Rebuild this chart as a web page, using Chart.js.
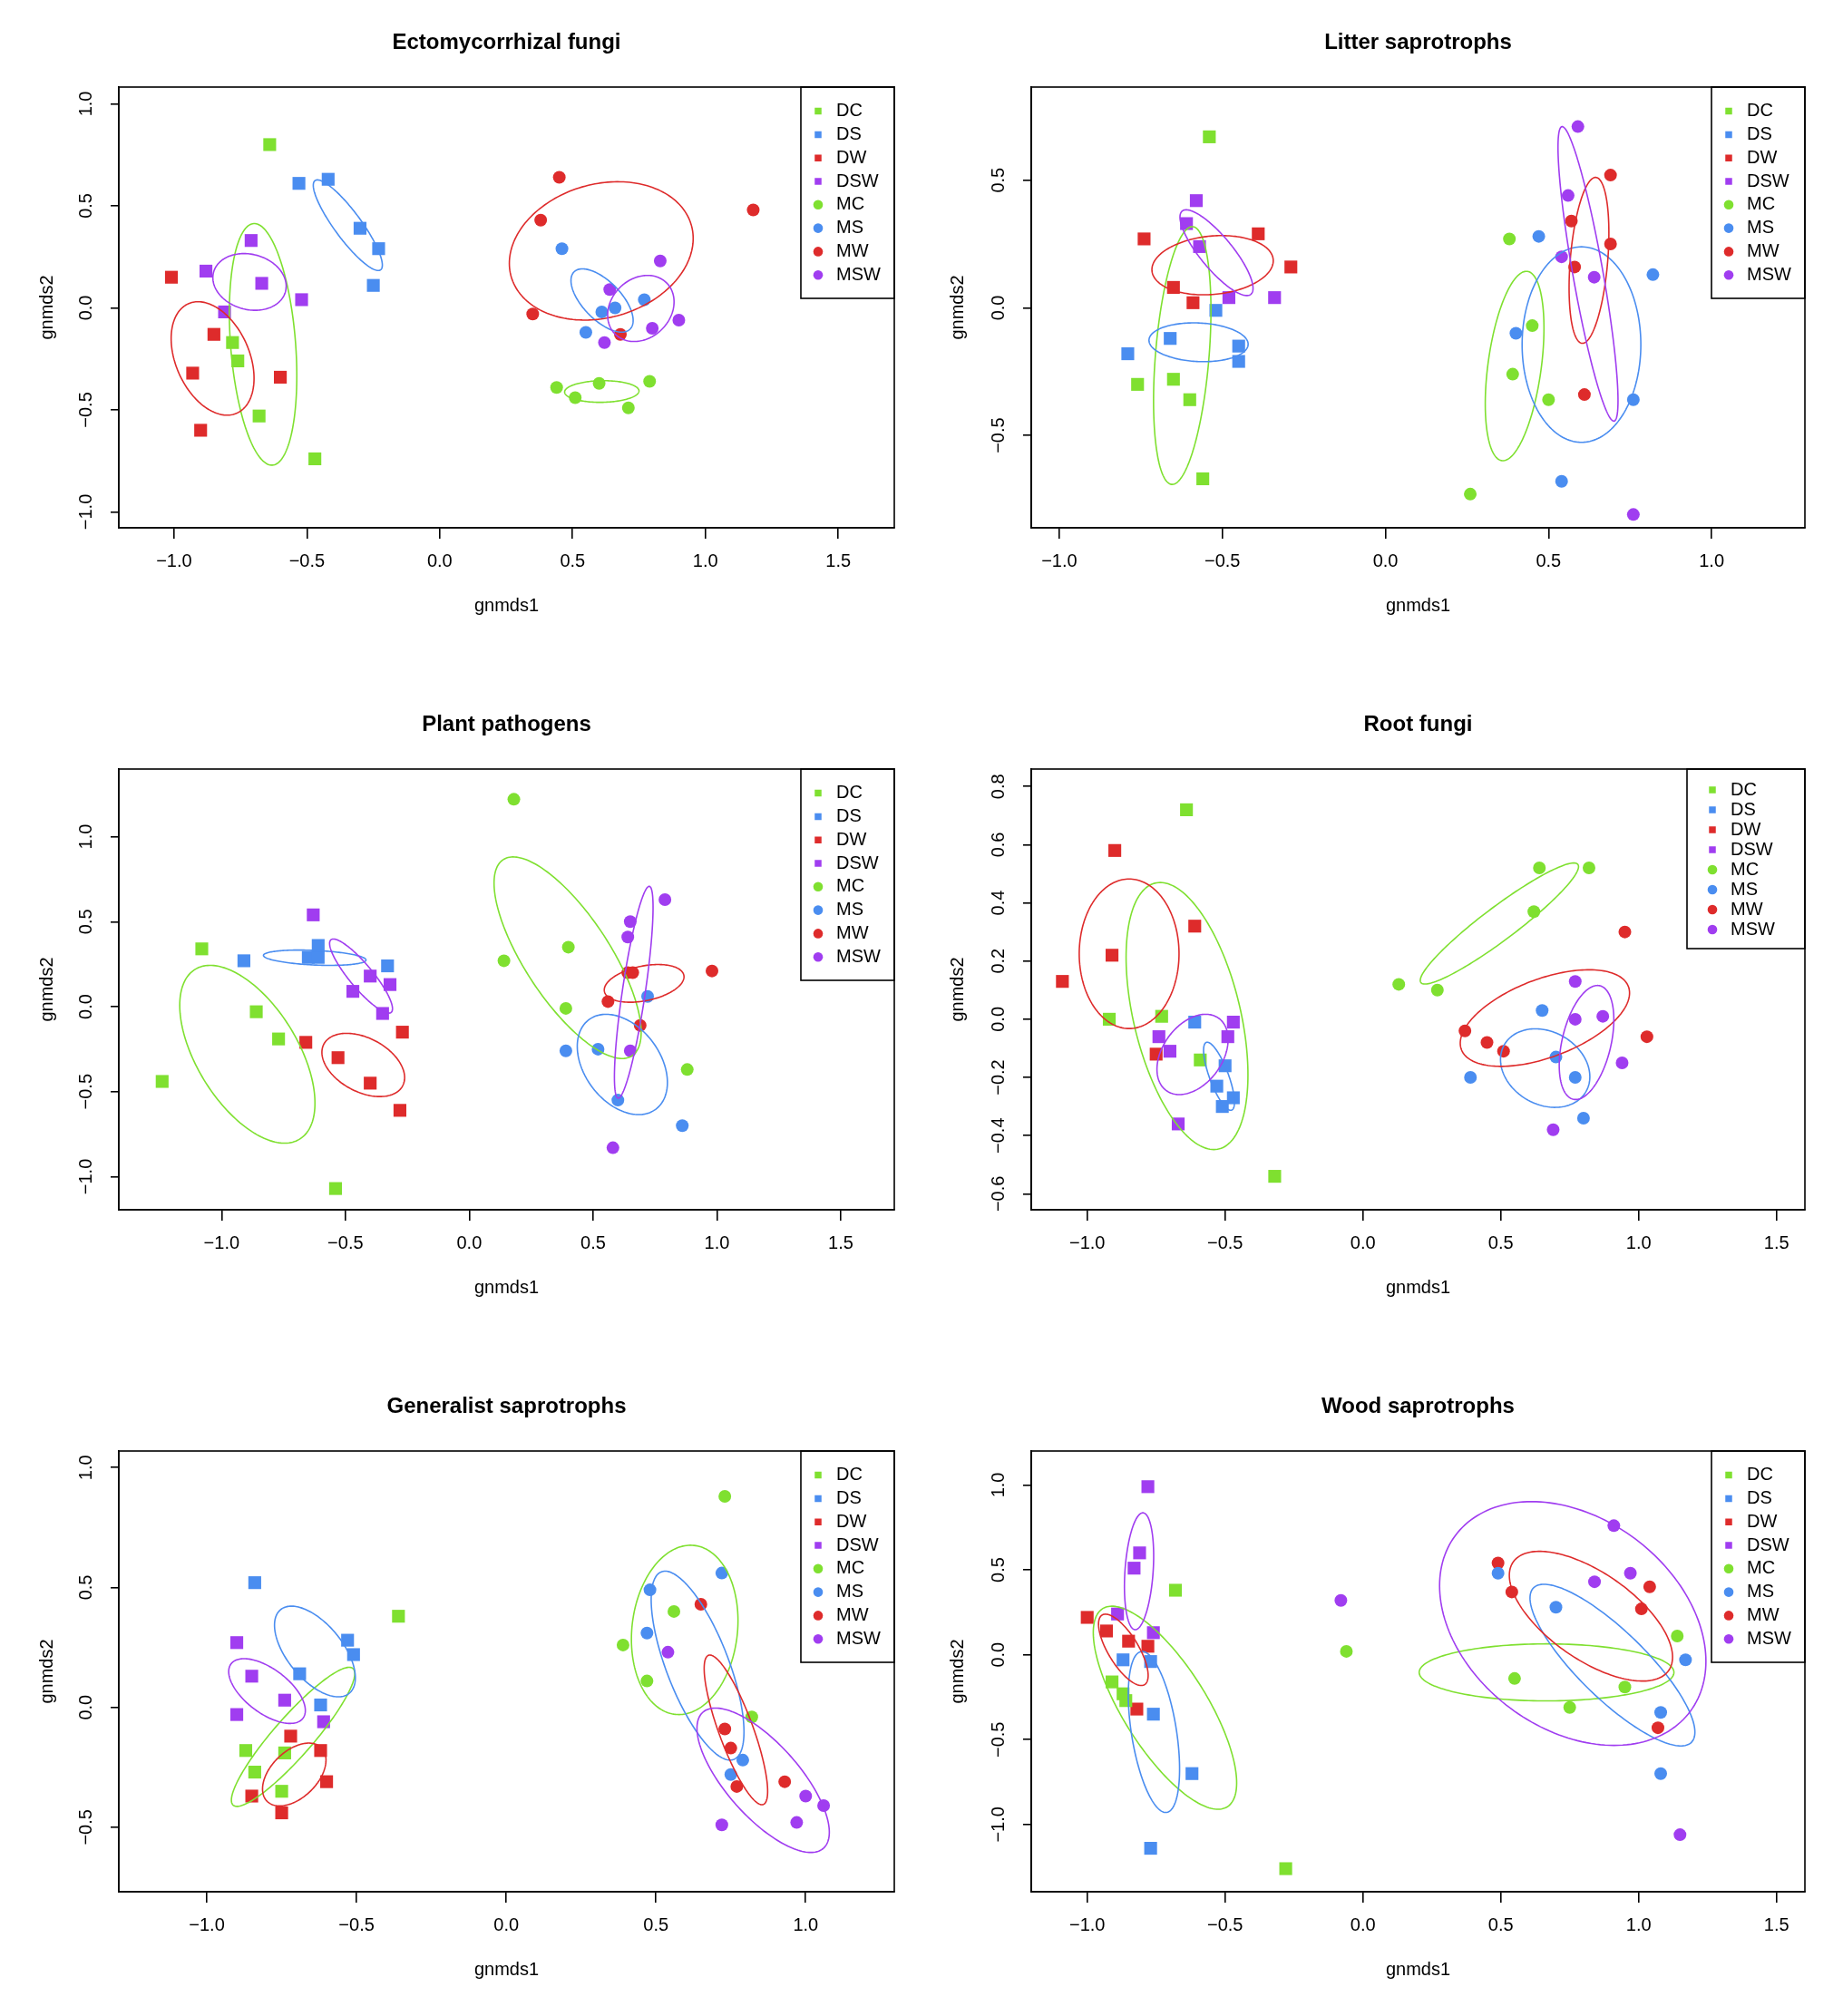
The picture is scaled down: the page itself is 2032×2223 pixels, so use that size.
<!DOCTYPE html>
<html>
<head>
<meta charset="utf-8">
<script src="https://cdn.jsdelivr.net/npm/chart.js@4.4.1/dist/chart.umd.min.js"></script>
<style>
  html, body { margin: 0; padding: 0; background: #fff; overflow: hidden; }
  body { width: 2032px; height: 2223px; position: relative; }
  .panel { position: absolute; width: 1016px; height: 719px; }
</style>
</head>
<body>
<div class="panel" style="left:0;top:0"><canvas id="p0"></canvas></div>
<div class="panel" style="left:1016px;top:0"><canvas id="p1"></canvas></div>
<div class="panel" style="left:0;top:752px"><canvas id="p2"></canvas></div>
<div class="panel" style="left:1016px;top:752px"><canvas id="p3"></canvas></div>
<div class="panel" style="left:0;top:1504px"><canvas id="p4"></canvas></div>
<div class="panel" style="left:1016px;top:1504px"><canvas id="p5"></canvas></div>
<script>
// groups (5 samples each, in this order in every x/y array)
var groups = ['DC', 'DS', 'DW', 'DSW', 'MC', 'MS', 'MW', 'MSW'];
var groupColors = ['#7fe030', '#4a8df0', '#de2b2b', '#a03df0', '#7fe030', '#4a8df0', '#de2b2b', '#a03df0'];
var groupShapes = ['rect', 'rect', 'rect', 'rect', 'circle', 'circle', 'circle', 'circle'];

var panelTitles = ['Ectomycorrhizal fungi', 'Litter saprotrophs', 'Plant pathogens', 'Root fungi', 'Generalist saprotrophs', 'Wood saprotrophs'];

// gnmds scores
var ectoX = [-0.64, -0.78, -0.76, -0.68, -0.47,  -0.53, -0.42, -0.30, -0.23, -0.25,  -1.01, -0.85, -0.93, -0.60, -0.90,  -0.71, -0.88, -0.67, -0.52, -0.81,
             0.44, 0.51, 0.60, 0.71, 0.79,  0.46, 0.61, 0.66, 0.55, 0.77,  0.45, 0.38, 0.35, 0.68, 1.18,  0.83, 0.64, 0.80, 0.90, 0.62];
var ectoY = [0.80, -0.17, -0.26, -0.53, -0.74,  0.61, 0.63, 0.39, 0.29, 0.11,  0.15, -0.13, -0.32, -0.34, -0.60,  0.33, 0.18, 0.12, 0.04, -0.02,
             -0.39, -0.44, -0.37, -0.49, -0.36,  0.29, -0.02, 0.00, -0.12, 0.04,  0.64, 0.43, -0.03, -0.13, 0.48,  0.23, 0.09, -0.10, -0.06, -0.17];

var litterX = [-0.54, -0.76, -0.65, -0.60, -0.56,  -0.79, -0.66, -0.52, -0.45, -0.45,  -0.74, -0.39, -0.29, -0.65, -0.59,  -0.58, -0.61, -0.57, -0.48, -0.34,
               0.38, 0.45, 0.39, 0.50, 0.26,  0.47, 0.82, 0.40, 0.76, 0.54,  0.69, 0.57, 0.69, 0.58, 0.61,  0.59, 0.56, 0.54, 0.64, 0.76];
var litterY = [0.67, -0.30, -0.28, -0.36, -0.67,  -0.18, -0.12, -0.01, -0.15, -0.21,  0.27, 0.29, 0.16, 0.08, 0.02,  0.42, 0.33, 0.24, 0.04, 0.04,
               0.27, -0.07, -0.26, -0.36, -0.73,  0.28, 0.13, -0.10, -0.36, -0.68,  0.52, 0.34, 0.25, 0.16, -0.34,  0.71, 0.44, 0.20, 0.12, -0.81];

var pathoX = [-1.08, -0.86, -0.77, -1.24, -0.54,  -0.91, -0.65, -0.61, -0.61, -0.33,  -0.66, -0.53, -0.27, -0.40, -0.28,  -0.63, -0.40, -0.32, -0.47, -0.35,
              0.18, 0.40, 0.14, 0.39, 0.88,  0.39, 0.52, 0.72, 0.60, 0.86,  0.64, 0.66, 0.98, 0.56, 0.69,  0.79, 0.65, 0.64, 0.65, 0.58];
var pathoY = [0.34, -0.03, -0.19, -0.44, -1.07,  0.27, 0.29, 0.29, 0.36, 0.24,  -0.21, -0.30, -0.15, -0.45, -0.61,  0.54, 0.18, 0.13, 0.09, -0.04,
              1.22, 0.35, 0.27, -0.01, -0.37,  -0.26, -0.25, 0.06, -0.55, -0.70,  0.20, 0.20, 0.21, 0.03, -0.11,  0.63, 0.50, 0.41, -0.26, -0.83];

var rootX = [-0.64, -0.92, -0.73, -0.59, -0.32,  -0.61, -0.50, -0.53, -0.47, -0.51,  -0.90, -0.61, -0.91, -1.09, -0.75,  -0.47, -0.74, -0.49, -0.70, -0.67,
             0.64, 0.82, 0.62, 0.13, 0.27,  0.65, 0.70, 0.39, 0.77, 0.80,  0.95, 0.37, 0.45, 0.51, 1.03,  0.77, 0.77, 0.87, 0.94, 0.69];
var rootY = [0.72, 0.00, 0.01, -0.14, -0.54,  -0.01, -0.16, -0.23, -0.27, -0.30,  0.58, 0.32, 0.22, 0.13, -0.12,  -0.01, -0.06, -0.06, -0.11, -0.36,
             0.52, 0.52, 0.37, 0.12, 0.10,  0.03, -0.13, -0.20, -0.20, -0.34,  0.30, -0.04, -0.08, -0.11, -0.06,  0.13, 0.00, 0.01, -0.15, -0.38];

var genX = [-0.36, -0.87, -0.84, -0.74, -0.75,  -0.84, -0.53, -0.51, -0.69, -0.62,  -0.72, -0.62, -0.60, -0.85, -0.75,  -0.90, -0.85, -0.74, -0.90, -0.61,
            0.73, 0.56, 0.39, 0.47, 0.82,  0.72, 0.48, 0.47, 0.79, 0.75,  0.65, 0.73, 0.75, 0.77, 0.93,  0.54, 1.00, 1.06, 0.97, 0.72];
var genY = [0.38, -0.18, -0.27, -0.19, -0.35,  0.52, 0.28, 0.22, 0.14, 0.01,  -0.12, -0.18, -0.31, -0.37, -0.44,  0.27, 0.13, 0.03, -0.03, -0.06,
            0.88, 0.40, 0.26, 0.11, -0.04,  0.56, 0.49, 0.31, -0.22, -0.28,  0.43, -0.09, -0.17, -0.33, -0.31,  0.23, -0.37, -0.41, -0.48, -0.49];

var woodX = [-0.68, -0.91, -0.87, -0.86, -0.28,  -0.87, -0.77, -0.76, -0.62, -0.77,  -1.00, -0.93, -0.85, -0.78, -0.82,  -0.78, -0.81, -0.83, -0.89, -0.76,
             -0.06, 1.14, 0.55, 0.95, 0.75,  0.49, 0.70, 1.17, 1.08, 1.08,  0.49, 0.54, 1.04, 1.01, 1.07,  -0.08, 0.91, 0.97, 0.84, 1.15];
var woodY = [0.38, -0.16, -0.23, -0.27, -1.26,  -0.03, -0.04, -0.35, -0.70, -1.14,  0.22, 0.14, 0.08, 0.05, -0.32,  0.99, 0.60, 0.51, 0.24, 0.13,
             0.02, 0.11, -0.14, -0.19, -0.31,  0.48, 0.28, -0.03, -0.34, -0.70,  0.54, 0.37, 0.40, 0.27, -0.43,  0.32, 0.76, 0.48, 0.43, -1.06];

// group ellipses: [centre x, centre y, half width x, half height y, tilt (corr)]
var ectoEll = [[-0.665, -0.179, 0.127, 0.592, -0.26], [-0.346, 0.405, 0.130, 0.222, -0.88], [-0.855, -0.248, 0.156, 0.278, -0.35], [-0.716, 0.127, 0.138, 0.139, -0.15],
               [0.610, -0.410, 0.140, 0.053, 0.05], [0.611, 0.036, 0.117, 0.155, -0.63], [0.608, 0.279, 0.346, 0.339, 0.18], [0.757, -0.003, 0.125, 0.162, 0.2]];
var litterEll = [[-0.623, -0.187, 0.088, 0.505, 0.35], [-0.573, -0.135, 0.152, 0.076, -0.1], [-0.530, 0.167, 0.186, 0.116, 0.15], [-0.518, 0.216, 0.112, 0.168, -0.83],
                 [0.396, -0.228, 0.090, 0.371, 0.4], [0.601, -0.144, 0.182, 0.383, 0.0], [0.624, 0.186, 0.061, 0.325, 0.33], [0.621, 0.133, 0.092, 0.577, -0.86]];
var pathoEll = [[-0.896, -0.280, 0.273, 0.523, -0.55], [-0.624, 0.288, 0.207, 0.045, -0.3], [-0.428, -0.343, 0.167, 0.186, -0.4], [-0.437, 0.180, 0.127, 0.218, -0.88],
                [0.397, 0.288, 0.297, 0.593, -0.74], [0.618, -0.340, 0.182, 0.295, -0.36], [0.706, 0.137, 0.161, 0.111, 0.35], [0.664, 0.085, 0.078, 0.623, 0.8]];
var rootEll = [[-0.638, 0.011, 0.221, 0.459, -0.44], [-0.522, -0.196, 0.056, 0.117, -0.76], [-0.848, 0.225, 0.181, 0.257, 0.0], [-0.618, -0.121, 0.129, 0.138, 0.37],
               [0.495, 0.329, 0.287, 0.208, 0.94], [0.661, -0.168, 0.162, 0.135, -0.22], [0.660, 0.004, 0.307, 0.166, 0.52], [0.811, -0.080, 0.099, 0.196, 0.4]];
var genEll = [[-0.712, -0.123, 0.206, 0.290, 0.91], [-0.639, 0.233, 0.135, 0.189, -0.58], [-0.708, -0.280, 0.106, 0.131, 0.46], [-0.799, 0.068, 0.128, 0.135, -0.6],
              [0.596, 0.323, 0.178, 0.353, 0.11], [0.639, 0.174, 0.155, 0.394, -0.7], [0.767, -0.094, 0.106, 0.312, -0.82], [0.858, -0.304, 0.221, 0.301, -0.72]];
var woodEll = [[-0.718, -0.312, 0.260, 0.598, -0.74], [-0.758, -0.455, 0.093, 0.474, -0.46], [-0.869, 0.029, 0.090, 0.210, -0.72], [-0.812, 0.492, 0.053, 0.344, 0.26],
               [0.666, -0.104, 0.462, 0.168, 0.0], [0.905, -0.061, 0.299, 0.476, -0.83], [0.827, 0.227, 0.296, 0.382, -0.63], [0.761, 0.184, 0.483, 0.718, -0.31]];

// axis limits and ticks
var xRanges = [[-1.208, 1.711], [-1.086, 1.286], [-1.415, 1.716], [-1.203, 1.603], [-1.294, 1.296], [-1.203, 1.603]];
var yRanges = [[-1.078, 1.082], [-0.862, 0.865], [-1.195, 1.398], [-0.655, 0.860], [-0.769, 1.069], [-1.396, 1.200]];
var xTicks = [[-1, -0.5, 0, 0.5, 1, 1.5], [-1, -0.5, 0, 0.5, 1], [-1, -0.5, 0, 0.5, 1, 1.5], [-1, -0.5, 0, 0.5, 1, 1.5], [-1, -0.5, 0, 0.5, 1], [-1, -0.5, 0, 0.5, 1, 1.5]];
var yTicks = [[-1, -0.5, 0, 0.5, 1], [-0.5, 0, 0.5], [-1, -0.5, 0, 0.5, 1], [-0.6, -0.4, -0.2, 0, 0.2, 0.4, 0.6, 0.8], [-0.5, 0, 0.5, 1], [-1, -0.5, 0, 0.5, 1]];

var panelX = [ectoX, litterX, pathoX, rootX, genX, woodX];
var panelY = [ectoY, litterY, pathoY, rootY, genY, woodY];
var panelEll = [ectoEll, litterEll, pathoEll, rootEll, genEll, woodEll];

// legend box geometry (px)
var legendBoxes = [
  { w: 103, h: 233, first: 26.6, step: 25.8, markerX: 19 },
  { w: 103, h: 233, first: 26.6, step: 25.8, markerX: 19 },
  { w: 103, h: 233, first: 26.6, step: 25.8, markerX: 19 },
  { w: 130, h: 198, first: 23, step: 22, markerX: 28 },
  { w: 103, h: 233, first: 26.6, step: 25.8, markerX: 19 },
  { w: 103, h: 233, first: 26.6, step: 25.8, markerX: 19 }
];

Chart.defaults.font.family = '"Liberation Sans", Arial, Helvetica, sans-serif';
Chart.defaults.font.size = 20;
Chart.defaults.color = '#000';

function fmtTick(v) {
  return (v < 0 ? '\u2212' : '') + Math.abs(v).toFixed(1);
}

var ellipsePlugin = {
  id: 'groupEllipses',
  afterDatasetsDraw: function(chart, args, opts) {
    var ctx = chart.ctx, xs = chart.scales.x, ys = chart.scales.y;
    ctx.save();
    ctx.lineWidth = 1.6;
    opts.list.forEach(function(e, k) {
      var s = Math.sqrt(1 - e[4] * e[4]);
      ctx.strokeStyle = groupColors[k];
      ctx.beginPath();
      for (var i = 0; i <= 180; i++) {
        var t = i / 180 * Math.PI * 2;
        var px = xs.getPixelForValue(e[0] + e[2] * Math.cos(t));
        var py = ys.getPixelForValue(e[1] + e[3] * (e[4] * Math.cos(t) + s * Math.sin(t)));
        if (i === 0) ctx.moveTo(px, py); else ctx.lineTo(px, py);
      }
      ctx.closePath();
      ctx.stroke();
    });
    ctx.restore();
  }
};

var framePlugin = {
  id: 'frame',
  afterLayout: function(chart, args, opts) {
    var lg = chart.legend, a = chart.chartArea, L = opts.box;
    if (!lg) return;
    var pad = L.step - 20;
    lg.left = a.right - L.w + L.markerX - 10 - pad;
    lg.top = a.top + L.first - 10 - pad;
    lg.right = a.right;
    lg.bottom = a.bottom;
    lg.width = lg.right - lg.left;
    lg.height = lg.bottom - lg.top;
  },
  afterDraw: function(chart, args, opts) {
    var ctx = chart.ctx, a = chart.chartArea, L = opts.box;
    ctx.save();
    ctx.strokeStyle = '#000';
    ctx.lineWidth = 1.6;
    ctx.strokeRect(a.left, a.top, a.right - a.left, a.bottom - a.top);
    ctx.strokeRect(a.right - L.w, a.top, L.w, L.h);
    ctx.restore();
  }
};

function makePanel(p) {
  var xs = panelX[p], ys = panelY[p];
  var left = p % 2 === 0;
  var L = legendBoxes[p];
  var datasets = groups.map(function(g, k) {
    var pts = [];
    for (var j = k * 5; j < k * 5 + 5; j++) pts.push({ x: xs[j], y: ys[j] });
    var r = groupShapes[k] === 'rect' ? 10 : 7;
    return {
      label: g,
      data: pts,
      backgroundColor: groupColors[k],
      borderColor: groupColors[k],
      borderWidth: 0,
      pointStyle: groupShapes[k],
      pointRadius: r,
      pointHoverRadius: r
    };
  });

  new Chart(document.getElementById('p' + p), {
    type: 'scatter',
    data: { datasets: datasets },
    plugins: [ellipsePlugin, framePlugin],
    options: {
      responsive: true,
      maintainAspectRatio: false,
      animation: false,
      devicePixelRatio: 1,
      layout: { padding: { left: 0, right: left ? 30 : 42, top: 0, bottom: 0 } },
      plugins: {
        title: {
          display: true,
          text: panelTitles[p],
          fullSize: false,
          font: { size: 24, weight: 'bold' },
          padding: { top: 32.6, bottom: 34.6 }
        },
        legend: {
          position: 'chartArea',
          align: 'start',
          labels: {
            usePointStyle: true,
            boxWidth: 20,
            boxHeight: 7.5,
            padding: L.step - 20,
            font: { size: 20 }
          }
        },
        tooltip: { enabled: false },
        groupEllipses: { list: panelEll[p] },
        frame: { box: L }
      },
      scales: {
        x: {
          type: 'linear',
          min: xRanges[p][0],
          max: xRanges[p][1],
          afterBuildTicks: function(s) { s.ticks = xTicks[p].map(function(v) { return { value: v }; }); },
          afterFit: function(s) { s.height = 137; },
          grid: { display: true, drawOnChartArea: false, drawTicks: true, tickLength: 12, color: '#000', lineWidth: 1.6 },
          border: { display: true, color: '#000', width: 1.6 },
          ticks: { autoSkip: false, maxRotation: 0, padding: 13, font: { size: 20 }, callback: fmtTick },
          title: { display: true, text: 'gnmds1', font: { size: 20 }, padding: { top: 0, bottom: 39 } }
        },
        y: {
          type: 'linear',
          min: yRanges[p][0],
          max: yRanges[p][1],
          afterBuildTicks: function(s) { s.ticks = yTicks[p].map(function(v) { return { value: v }; }); },
          afterFit: function(s) { s.width = left ? 131 : 121; },
          grid: { display: true, drawOnChartArea: false, drawTicks: true, tickLength: 9, color: '#000', lineWidth: 1.6 },
          border: { display: true, color: '#000', width: 1.6 },
          ticks: { autoSkip: false, minRotation: 90, maxRotation: 90, crossAlign: 'center', padding: 7, font: { size: 20 }, callback: fmtTick },
          title: { display: true, text: 'gnmds2', font: { size: 20 }, padding: { top: left ? 40 : 28, bottom: 0 } }
        }
      }
    }
  });
}

for (var p = 0; p < 6; p++) makePanel(p);
</script>
</body>
</html>
